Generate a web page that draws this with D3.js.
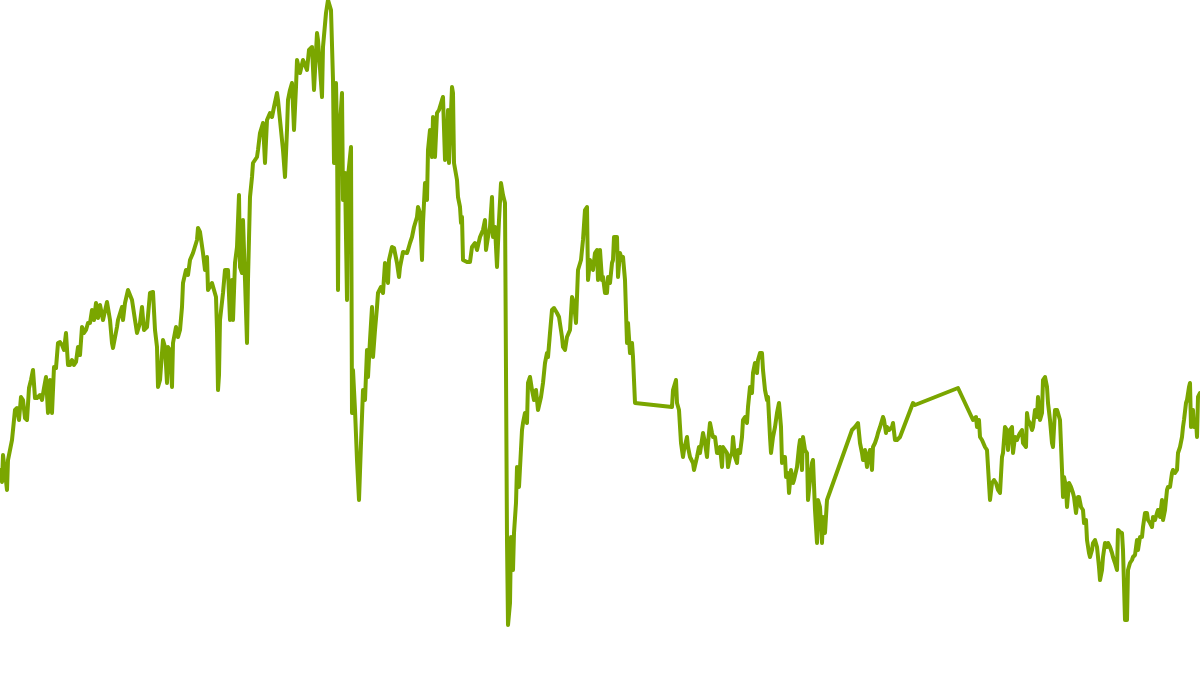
<!DOCTYPE html>
<html>
<head>
<meta charset="utf-8">
<script src="https://cdn.jsdelivr.net/npm/d3@7"></script>
<style>
  html, body { margin: 0; padding: 0; background: #ffffff; }
  svg { display: block; }
</style>
</head>
<body>
<svg id="chart" width="1200" height="675"></svg>
<script>
// Time index (trading-day position) of each observation
const days = [
  0,2,3,5,7,8,10,12,15,17,
  19,21,23,25,27,29,31,33,35,37,
  40,42,44,46,48,50,52,54,56,58,
  60,62,64,66,68,70,72,74,76,78,
  80,82,84,86,88,90,92,94,96,98,
  100,103,107,110,112,113,117,118,122,123,
  125,128,132,135,137,140,142,144,147,150,
  153,155,157,158,160,162,163,165,167,168,
  170,172,173,176,178,180,182,183,186,188,
  190,193,197,198,200,203,205,207,208,212,
  214,216,217,218,219,220,223,225,228,230,
  232,233,235,237,239,240,242,243,245,247,
  248,250,252,253,257,258,260,263,265,267,
  270,272,274,277,278,281,283,285,287,288,
  290,292,294,296,297,300,303,307,309,312,
  314,317,318,322,323,326,328,331,333,334,
  336,337,338,339,342,343,345,347,348,351,
  352,353,355,357,359,361,363,365,367,368,
  370,372,373,375,377,378,381,383,385,388,
  389,392,394,397,399,400,402,403,407,408,
  410,412,414,417,418,420,422,423,425,427,
  428,430,432,433,435,437,439,442,443,445,
  447,448,449,452,453,454,457,458,460,461,
  462,463,467,470,472,475,477,480,483,485,
  486,488,490,492,493,495,497,499,501,503,
  505,507,508,510,511,513,514,516,517,519,
  522,523,525,527,528,530,532,534,536,538,
  541,543,545,547,548,550,552,554,557,559,
  562,563,565,567,570,572,574,576,578,581,
  583,585,587,588,590,593,595,597,598,600,
  602,603,605,607,608,610,612,613,614,617,
  618,620,622,623,625,627,628,630,632,633,
  635,672,673,676,677,679,681,683,684,687,
  688,690,693,694,697,699,700,703,705,707,
  708,710,712,713,715,717,718,720,722,723,
  725,727,728,730,732,733,735,737,738,740,
  742,743,745,747,748,750,752,753,755,757,
  758,760,762,763,765,767,768,770,771,773,
  775,777,779,781,782,783,785,786,788,789,
  791,793,794,797,799,800,802,803,805,807,
  808,810,812,813,815,817,818,820,822,823,
  825,827,852,855,858,860,862,863,865,867,
  868,870,872,873,875,877,878,880,883,884,
  886,887,889,892,893,895,897,900,913,915,
  958,973,976,977,979,980,982,985,987,990,
  992,994,996,998,1000,1002,1003,1005,1007,1008,
  1010,1012,1013,1015,1017,1018,1020,1022,1023,1026,
  1027,1028,1030,1032,1033,1035,1037,1038,1040,1042,
  1043,1045,1047,1048,1050,1052,1053,1055,1057,1058,
  1060,1062,1063,1064,1066,1067,1069,1071,1073,1074,
  1076,1078,1079,1081,1083,1084,1086,1087,1089,1090,
  1092,1093,1095,1097,1098,1099,1100,1102,1103,1105,
  1107,1108,1110,1112,1113,1115,1117,1118,1120,1122,
  1123,1125,1127,1128,1130,1132,1133,1135,1137,1138,
  1140,1142,1143,1145,1147,1148,1150,1152,1153,1155,
  1157,1158,1160,1162,1163,1165,1167,1168,1170,1172,
  1173,1175,1177,1178,1180,1182,1183,1184,1186,1187,
  1189,1190,1191,1193,1194,1196,1197,1198,1200
];

// Observed value at each time index
const values = [
  18.0,16.8,19.5,17.8,16.0,19.0,20.0,21.0,24.0,24.2,
  23.0,25.3,25.0,23.2,23.0,26.2,27.0,28.0,25.2,25.2,
  25.5,25.0,26.2,27.3,23.7,27.0,23.7,28.3,28.2,30.7,
  30.8,30.5,30.0,31.7,28.5,28.5,29.0,28.5,28.8,30.3,
  29.5,32.3,31.7,32.0,32.7,32.7,34.0,33.0,34.7,33.2,
  34.5,33.0,34.8,33.0,30.7,30.2,32.3,33.0,34.3,33.0,
  34.7,36.0,35.0,33.0,31.7,32.7,34.3,32.0,32.3,35.7,
  35.8,32.0,30.3,26.3,27.0,29.7,31.0,30.3,26.7,30.3,
  30.0,26.3,30.7,32.3,31.3,32.0,34.3,36.7,38.0,37.5,
  39.0,39.7,41.0,42.2,41.8,39.7,38.0,39.3,36.0,36.7,
  36.0,35.3,32.0,26.0,27.5,33.0,35.7,38.0,38.0,33.0,
  37.0,33.0,38.7,40.3,45.5,38.3,37.7,43.0,37.0,30.7,
  37.0,45.3,47.3,48.7,49.3,50.0,51.7,52.7,48.7,53.0,
  53.7,53.3,54.3,55.7,55.0,52.0,50.0,47.3,52.0,55.0,
  56.0,56.7,52.0,56.3,59.0,57.7,59.0,58.0,60.0,60.3,
  56.0,61.7,61.0,55.3,60.3,63.7,65.0,64.0,57.0,48.7,
  56.7,51.7,36.0,51.0,55.7,45.0,47.7,35.0,47.3,50.3,
  23.7,28.0,24.0,19.0,15.0,20.7,26.0,25.0,30.0,27.3,
  31.0,34.3,29.3,32.0,34.3,35.7,36.3,35.7,38.7,36.7,
  39.0,40.3,40.2,38.7,37.3,38.3,39.3,39.8,39.7,40.0,
  40.7,41.3,42.3,43.3,44.3,43.7,39.0,42.7,46.7,45.0,
  50.0,52.0,49.3,53.3,49.3,53.7,54.0,55.0,55.3,49.0,
  50.7,54.0,48.7,56.3,55.7,48.7,47.0,45.3,44.3,42.7,
  43.3,39.0,38.8,38.8,40.3,40.7,40.0,41.3,42.0,43.0,
  40.0,41.3,42.3,45.3,41.3,42.3,38.3,43.0,46.7,45.5,
  44.7,11.0,2.5,4.7,11.3,8.0,11.7,14.7,18.3,16.3,
  22.0,22.7,23.7,22.7,26.7,27.3,26.0,25.0,26.0,24.0,
  25.3,26.7,28.7,29.7,29.3,31.7,34.0,34.2,33.7,33.3,
  31.3,30.3,30.0,31.3,32.0,35.3,34.7,32.7,38.0,39.0,
  41.0,44.0,44.3,37.0,39.0,38.0,39.7,40.0,37.0,40.0,
  37.0,37.3,35.7,35.7,37.3,36.7,38.7,39.0,41.3,41.3,
  37.3,39.7,39.0,39.3,37.0,30.7,32.7,29.7,30.7,29.3,
  24.7,24.3,26.0,27.0,24.7,24.0,20.7,19.3,20.0,21.3,
  20.3,19.3,18.7,18.0,19.3,20.3,19.7,21.7,20.7,19.3,
  20.7,22.7,21.7,21.3,21.3,19.7,19.7,20.3,18.3,20.3,
  20.0,19.7,18.3,19.3,19.7,21.3,19.3,18.7,20.0,19.7,
  21.3,23.0,23.3,22.7,24.3,26.3,25.7,27.7,28.7,27.7,
  29.0,29.7,29.7,28.0,26.0,25.0,25.3,21.3,19.7,21.3,
  22.3,23.7,24.7,22.3,18.7,19.3,19.3,17.3,17.7,15.7,
  18.0,16.7,17.0,18.3,20.3,21.0,18.0,21.3,20.0,19.7,
  15.0,17.0,18.7,19.0,14.0,10.7,15.0,14.3,10.7,13.3,
  11.7,15.0,22.0,22.3,22.7,20.7,19.7,19.0,20.0,18.3,
  19.3,20.0,18.0,20.3,20.7,21.3,21.7,22.3,23.3,23.0,
  21.7,22.3,22.0,22.3,22.7,21.0,21.0,21.3,24.7,24.5,
  26.2,23.0,23.3,22.3,23.0,21.3,21.0,20.3,20.0,15.0,
  16.7,17.0,16.7,16.0,15.7,19.3,19.7,22.3,22.0,20.0,
  22.0,22.3,19.7,21.3,21.0,21.3,21.7,22.0,20.7,20.3,
  23.7,23.0,22.7,22.0,22.3,24.0,23.3,25.3,23.0,23.7,
  27.0,27.3,26.3,24.7,23.0,20.7,20.3,24.0,24.0,23.7,
  23.0,18.0,15.3,17.3,16.3,14.3,16.7,16.3,15.7,15.3,
  13.7,15.3,15.3,14.3,14.0,12.7,13.0,11.0,9.7,9.3,
  10.0,10.7,11.0,10.3,9.3,8.3,7.0,8.0,9.3,10.7,
  10.3,10.7,10.3,9.7,9.3,8.7,8.0,12.0,11.8,11.7,
  10.0,3.0,3.0,8.0,8.7,9.0,9.3,9.5,11.0,10.0,
  11.3,11.3,12.3,13.7,13.7,13.0,12.7,12.3,13.3,13.0,
  13.7,14.0,13.3,15.0,13.0,14.0,16.0,16.3,16.3,17.7,
  18.0,17.7,18.0,19.7,20.3,21.3,22.3,23.0,24.7,25.0,
  26.3,26.7,22.3,24.0,22.3,23.0,21.3,25.3,25.7
];

const data = days.map((d, i) => ({ t: d, v: values[i] }));

const width = 1200, height = 675;
const svg = d3.select("#chart");

const x = d3.scaleLinear().domain([0, 1200]).range([0, width]);
const y = d3.scaleLinear().domain([0, 65]).range([650, 0]);

const line = d3.line()
  .x(d => x(d.t))
  .y(d => y(d.v));

svg.append("path")
  .datum(data)
  .attr("fill", "none")
  .attr("stroke", "#7aa600")
  .attr("stroke-width", 4)
  .attr("stroke-linejoin", "round")
  .attr("stroke-linecap", "round")
  .attr("d", line);
</script>
</body>
</html>
